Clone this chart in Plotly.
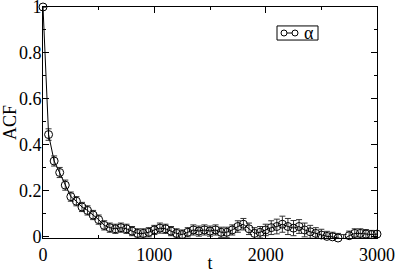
import plotly.graph_objects as go

t_vals = list(range(0, 3001, 50))
acf_vals = [1.0, 0.445, 0.33, 0.28, 0.225, 0.175, 0.155, 0.13, 0.115, 0.095,
            0.075, 0.05, 0.04, 0.035, 0.04, 0.035, 0.025, 0.015, 0.015, 0.02,
            0.03, 0.038, 0.035, 0.025, 0.015, 0.01, 0.02, 0.03, 0.025, 0.03,
            0.025, 0.03, 0.02, 0.02, 0.03, 0.045, 0.055, 0.035, 0.015, 0.02,
            0.03, 0.04, 0.045, 0.055, 0.045, 0.038, 0.045, 0.03, 0.022, 0.015,
            0.008, 0.002, 0.0, -0.005, -0.01, 0.005, 0.015, 0.015, 0.012, 0.01,
            0.012]
err_vals = [0.0, 0.025, 0.022, 0.022, 0.022, 0.02, 0.02, 0.02, 0.02, 0.02,
            0.02, 0.02, 0.02, 0.02, 0.02, 0.02, 0.02, 0.02, 0.02, 0.02,
            0.02, 0.022, 0.02, 0.02, 0.02, 0.02, 0.02, 0.022, 0.022, 0.022,
            0.022, 0.022, 0.022, 0.022, 0.022, 0.025, 0.025, 0.025, 0.025, 0.025,
            0.025, 0.03, 0.032, 0.035, 0.035, 0.033, 0.03, 0.03, 0.028, 0.025,
            0.025, 0.022, 0.02, 0.02, 0.02, 0.02, 0.02, 0.02, 0.02, 0.018,
            0.015]
x_ticks = [0, 1000, 2000, 3000]
x_tick_labels = ["0", "1000", "2000", "3000"]
y_ticks = [0, 0.2, 0.4, 0.6, 0.8, 1.0]
y_tick_labels = ["0", "0.2", "0.4", "0.6", "0.8", "1"]
series_name = "α"

fig = go.Figure()
fig.add_trace(go.Scatter(
    x=t_vals, y=acf_vals, mode="lines+markers", name=series_name,
    line=dict(color="black", width=1),
    marker=dict(symbol="circle-open", size=8, color="black", line=dict(width=1)),
    error_y=dict(type="data", array=err_vals, visible=True, color="#333333",
                 thickness=1, width=3),
    cliponaxis=False, showlegend=False,
))

font_family = "Times New Roman, Liberation Serif, serif"

# hand-drawn legend box (paper coordinates)
lg_x0, lg_x1, lg_y0, lg_y1 = 0.7006, 0.8234, 0.857, 0.918
lg_yc = 0.8874
c1x, c2x = 0.7216, 0.7545
fig.add_shape(type="rect", xref="paper", yref="paper", x0=lg_x0, x1=lg_x1,
              y0=lg_y0, y1=lg_y1, line=dict(color="black", width=1),
              fillcolor="white", layer="above")
fig.add_shape(type="line", xref="paper", yref="paper", x0=c1x, x1=c2x,
              y0=lg_yc, y1=lg_yc, line=dict(color="black", width=1), layer="above")
for cx in (c1x, c2x):
    fig.add_shape(type="circle", xref="paper", yref="paper",
                  xsizemode="pixel", ysizemode="pixel", xanchor=cx, yanchor=lg_yc,
                  x0=-3, x1=3, y0=-3, y1=3,
                  line=dict(color="black", width=1), fillcolor="white", layer="above")
fig.add_annotation(x=0.796, y=lg_yc, xref="paper", yref="paper", text=series_name,
                   showarrow=False, xanchor="center", yanchor="middle",
                   font=dict(family=font_family, size=18, color="black"))

fig.update_layout(
    width=397, height=273,
    margin=dict(l=43, r=20, t=7, b=35, autoexpand=False),
    paper_bgcolor="white", plot_bgcolor="white",
    font=dict(family=font_family, size=18, color="black"),
    showlegend=False,
    xaxis=dict(range=[0, 3000], tickvals=x_ticks, ticktext=x_tick_labels,
               ticks="inside", ticklen=6, tickcolor="black",
               showline=True, linecolor="black", linewidth=1, mirror="allticks",
               showgrid=False, zeroline=False, ticklabeloverflow="allow",
               automargin=False,
               minor=dict(dtick=500, tick0=0, ticks="inside", ticklen=3, tickcolor="black"),
               title=dict(text="t", standoff=2,
                          font=dict(family=font_family, size=18)),
               tickfont=dict(family=font_family, size=18)),
    yaxis=dict(range=[-0.005, 1.0], tickvals=y_ticks, ticktext=y_tick_labels,
               ticks="inside", ticklen=6, tickcolor="black",
               showline=True, linecolor="black", linewidth=1, mirror="allticks",
               showgrid=False, zeroline=False, ticklabeloverflow="allow",
               automargin=False, ticklabelstandoff=-3,
               minor=dict(dtick=0.1, tick0=0, ticks="inside", ticklen=3, tickcolor="black"),
               title=dict(text="ACF", standoff=0,
                          font=dict(family=font_family, size=18)),
               tickfont=dict(family=font_family, size=18)),
)

fig.write_html("out.html", config={"displayModeBar": False},
               post_script="document.body.style.margin='0';")
